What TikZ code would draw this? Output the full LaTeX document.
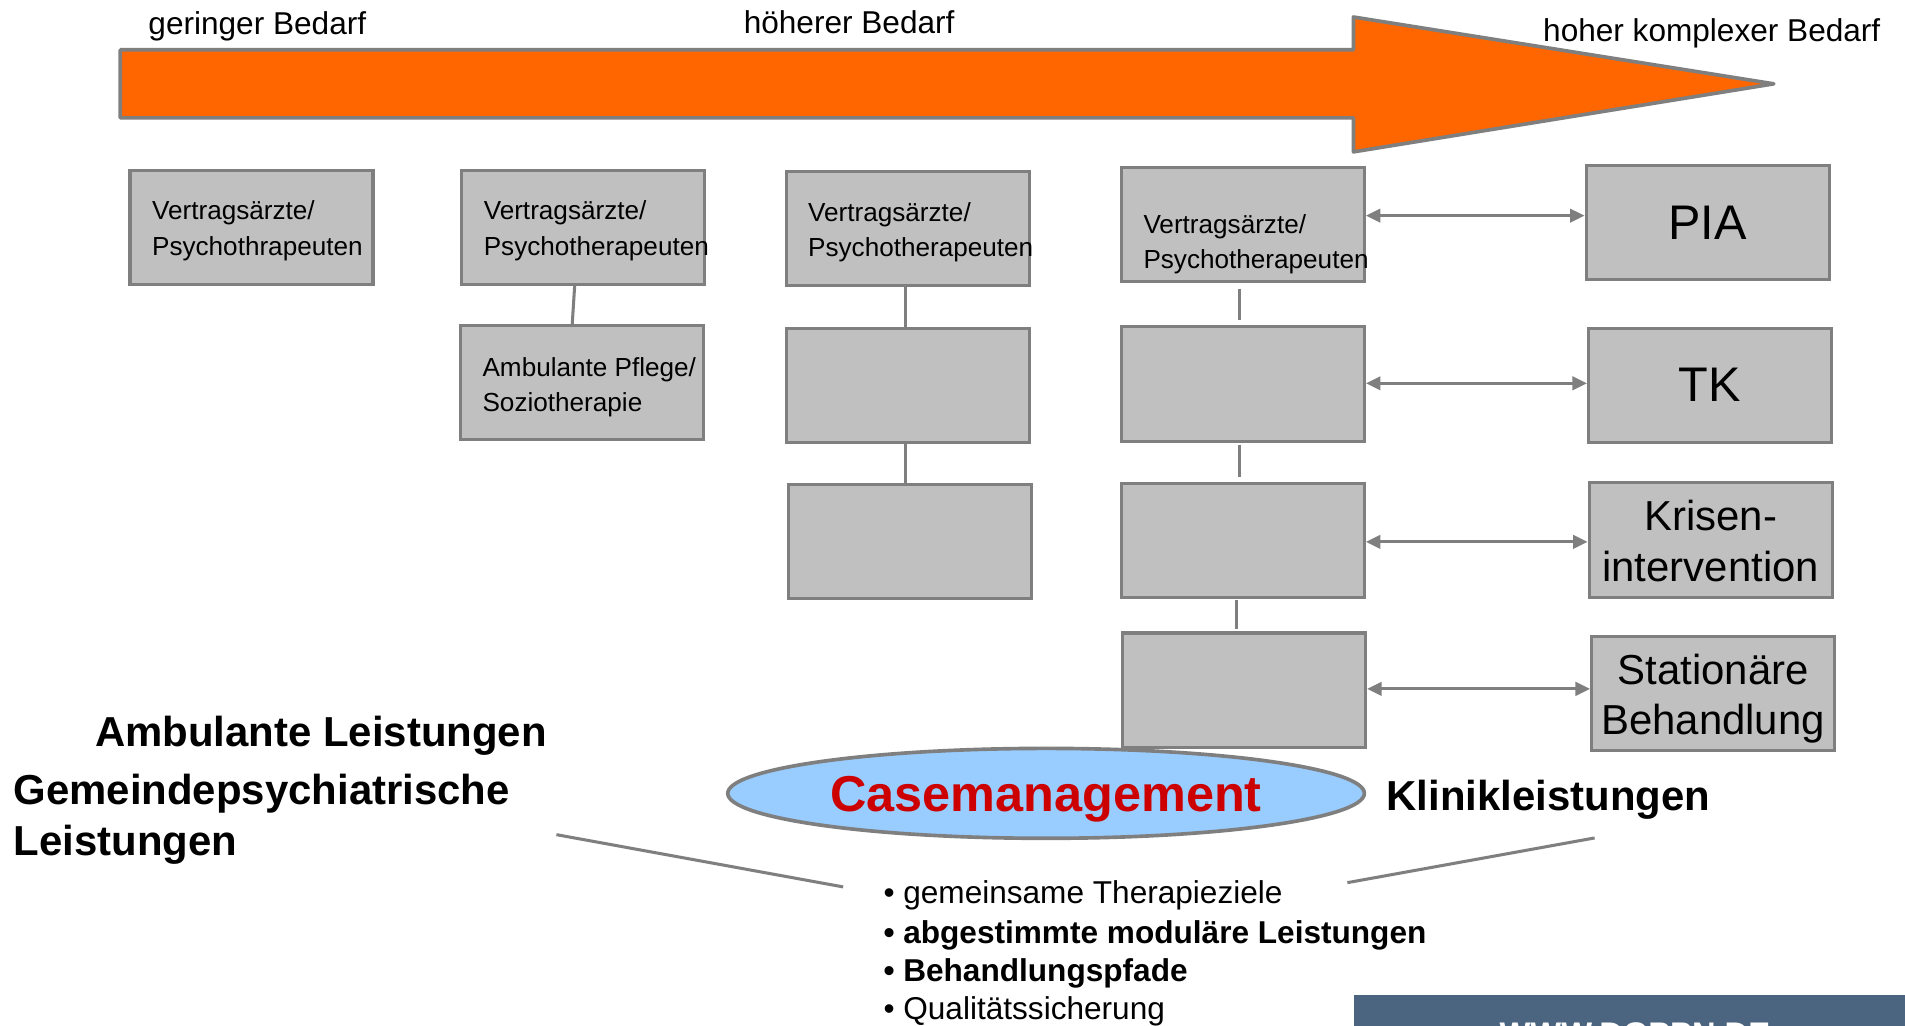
\documentclass[tikz,border=0pt]{standalone}
\usepackage{fontspec}
\setmainfont{Liberation Sans}
\usetikzlibrary{arrows.meta,shapes.geometric}
\definecolor{orng}{HTML}{FF6600}
\definecolor{gline}{HTML}{7F7F7F}
\definecolor{bfill}{HTML}{C0C0C0}
\definecolor{ellfill}{HTML}{99CCFF}
\definecolor{cmred}{HTML}{CC0000}
\definecolor{bannerblue}{HTML}{4B6580}
\newcommand\stackl[2]{\begin{tabular}[t]{@{}l@{}}#1\\#2\end{tabular}}
\newcommand\stackc[2]{\begin{tabular}[t]{@{}c@{}}#1\\#2\end{tabular}}
\begin{document}
\begin{tikzpicture}[x=1pt,y=-1pt,
  box/.style={draw=gline, fill=bfill, line width=2.5pt, rectangle, minimum width=200pt, minimum height=94pt, inner sep=0pt},
  boxtxt/.style={inner sep=0pt, anchor=base west, font=\fontsize{21.5}{29}\selectfont},
  bigtxt/.style={inner sep=0pt, anchor=base, font=\fontsize{34.5}{41.5}\selectfont},
  toptxt/.style={inner sep=0pt, anchor=base west, font=\fontsize{26}{31}\selectfont},
  boldlbl/.style={inner sep=0pt, anchor=base west, font=\fontsize{34.5}{41}\selectfont\bfseries},
  bulreg/.style={inner sep=0pt, anchor=base west, font=\fontsize{26}{31.7}\selectfont},
  bulbold/.style={inner sep=0pt, anchor=base west, font=\fontsize{26}{31.7}\selectfont\bfseries},
  conn/.style={draw=gline, line width=2.5pt},
  dbl/.style={draw=gline, line width=2.5pt, {Triangle[length=12pt,width=11pt]}-{Triangle[length=12pt,width=11pt]}},
]
\useasboundingbox (0,0) rectangle (1568,844);
\fill[white] (0,0) rectangle (1568,844);

% big arrow
\draw[fill=orng, draw=gline, line width=3pt, line join=round] (99,41) -- (1114,41) -- (1114,14) -- (1460,69) -- (1114,125) -- (1114,97) -- (99,97) -- cycle;
\node[toptxt] (lowneed) at (122,28) {geringer Bedarf};
\node[toptxt] (midneed) at (612,27.5) {höherer Bedarf};
\node[toptxt] (highneed) at (1270,34) {hoher komplexer Bedarf};

% boxes
\node[box] (b1) at (207,187) {};
\node[box] (b2a) at (480,187) {};
\node[box] (b2b) at (479,315) {};
\node[box] (b3a) at (747,188) {};
\node[box] (b3b) at (747,317) {};
\node[box] (b3c) at (749,446) {};
\node[box] (b4a) at (1023,184.5) {};
\node[box] (b4b) at (1023,316) {};
\node[box] (b4c) at (1023,445) {};
\node[box] (b4d) at (1024,568) {};
\node[box, font=\fontsize{40}{48}\selectfont] (pia) at (1405.5,183) {PIA};
\node[box, font=\fontsize{40}{48}\selectfont] (tk) at (1407.5,317) {TK};
\node[box] (kri) at (1408,444.5) {};
\node[box] (sta) at (1410,571) {};

% box texts
\node[boxtxt] (t1) at (125,181) {\stackl{Vertragsärzte/}{Psychothrapeuten}};
\node[boxtxt] (t2a) at (398,181) {\stackl{Vertragsärzte/}{Psychotherapeuten}};
\node[boxtxt] (t2b) at (397,309.5) {\stackl{Ambulante Pflege/}{Soziotherapie}};
\node[boxtxt] (t3a) at (665,182) {\stackl{Vertragsärzte/}{Psychotherapeuten}};
\node[boxtxt] (t4a) at (941,192) {\stackl{Vertragsärzte/}{Psychotherapeuten}};
\node[bigtxt] (kritxt) at (1408,437) {\stackc{Krisen-}{intervention}};
\node[bigtxt] (statxt) at (1410,563) {\stackc{Stationäre}{Behandlung}};

% vertical connectors
\draw[conn] ([xshift=-7pt]b2a.south) -- ([xshift=-8pt]b2b.north);
\draw[conn] ([xshift=-2pt]b3a.south) -- ([xshift=-2pt]b3b.north);
\draw[conn] ([xshift=-2pt]b3b.south) -- ([xshift=-4pt]b3c.north);
\draw[conn, shorten <=5pt, shorten >=4pt] ([xshift=-2.5pt]b4a.south) -- ([xshift=-2.5pt]b4b.north);
\draw[conn, shorten <=2pt, shorten >=4pt] ([xshift=-2.5pt]b4b.south) -- ([xshift=-2.5pt]b4c.north);
\draw[conn, shorten <=1pt, shorten >=2pt] ([xshift=-5pt]b4c.south) -- ([xshift=-6pt]b4d.north);

% double arrows
\coordinate (a1s) at ([yshift=7pt]b4a.east);
\coordinate (a2s) at ([yshift=0.5pt]b4b.east);
\coordinate (a3s) at ([yshift=-1pt]b4c.east);
\coordinate (a4s) at ([yshift=1pt]b4d.east);
\draw[dbl] (a1s) -- (a1s -| pia.west);
\draw[dbl] (a2s) -- (a2s -| tk.west);
\draw[dbl] (a3s) -- (a3s -| kri.west);
\draw[dbl] (a4s) -- (a4s -| sta.west);

% case management
\node[ellipse, draw=gline, fill=ellfill, line width=3pt, minimum width=524pt, minimum height=74pt, inner sep=0pt, text=cmred, font=\fontsize{41.5}{50}\selectfont\bfseries, text height=30pt, text depth=0pt] (cm) at (861,653) {Casemanagement};

% labels
\node[boldlbl] (amb) at (78,614.5) {Ambulante Leistungen};
\node[boldlbl] (gem1) at (11,662) {Gemeindepsychiatrische};
\node[boldlbl] (gem2) at (11,704) {Leistungen};
\node[boldlbl] (klin) at (1141,667.5) {Klinikleistungen};

% bullets
\node[bulreg] (bul1) at (727,744) {• gemeinsame Therapieziele};
\node[bulbold] (bul2) at (727,776.4) {• abgestimmte moduläre Leistungen};
\node[bulbold] (bul3) at (727,808) {• Behandlungspfade};
\node[bulreg] (bul4) at (727,839) {• Qualitätssicherung};

% slanted lines
\coordinate (l1a) at (458,687);
\coordinate (l1b) at (694,730);
\coordinate (l2a) at (1109,726.5);
\coordinate (l2b) at (1312.5,689.7);
\draw[conn] (l1a) -- (l1b);
\draw[conn] (l2a) -- (l2b);

% banner
\begin{scope}
\clip (0,0) rectangle (1568,844);
\fill[bannerblue] (1114.6,819) rectangle (1570,850);
\node[anchor=base, inner sep=0pt, text=white, font=\fontsize{26.9}{30}\selectfont\bfseries] (web) at (1345.6,860.2) {WWW.DGPPN.DE};
\end{scope}
\end{tikzpicture}
\end{document}
